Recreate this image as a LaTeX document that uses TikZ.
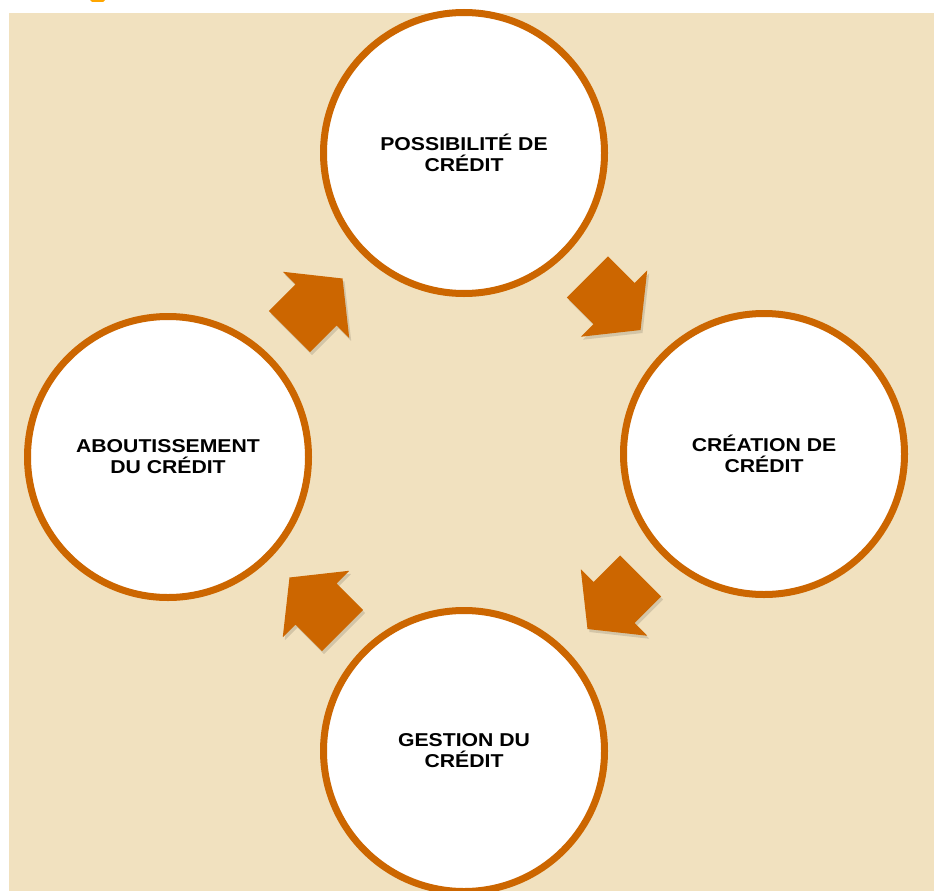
\documentclass[tikz,border=0pt]{standalone}
\usepackage{fontspec}
\usepackage{tikz}
\usetikzlibrary{calc}
\newfontfamily\stagefont[FakeStretch=1.14]{Liberation Sans}
\definecolor{rust}{HTML}{CC6600}
\definecolor{sand}{HTML}{F1E1BF}
\tikzstyle{stage} = [circle, draw=rust, line width=7pt, fill=white, minimum size=281pt, inner sep=0pt, align=center, font=\stagefont\bfseries\fontsize{18.6}{21}\selectfont]
\tikzstyle{arrowshade} = [black, opacity=0.12]
\tikzset{pics/blockarrow/.style={code={
    \fill[#1] (-37.5,-29) -- (0,-29) -- (0,-47) -- (37.5,0) -- (0,47) -- (0,29) -- (-37.5,29) -- cycle;
}}}

\begin{document}
\begin{tikzpicture}[x=1pt, y=1pt]

        \useasboundingbox (0,0) rectangle (934,-891);
        \fill[sand] (9,-13) rectangle (934,-891);
        \fill[orange!70!yellow] (90,0) -- (105,0) -- (103,-2) -- (92,-2) -- cycle;

        % Circles
        \node (poss) [stage] at (464,-153) {POSSIBILITÉ DE\\CRÉDIT};
        \node (crea) [stage] at (764,-454) {CRÉATION DE\\CRÉDIT};
        \node (gest) [stage] at (464,-751) {GESTION DU\\CRÉDIT};
        \node (abou) [stage] at (168,-457) {ABOUTISSEMENT\\DU CRÉDIT};

        % Soft shadows of the block arrows
        \pic[shift={(2,-3)}, rotate=-45] at ($(poss)!0.5!(crea)$) {blockarrow=arrowshade};
        \pic[shift={(2,-3)}, rotate=-135] at ($(crea)!0.5!(gest)$) {blockarrow=arrowshade};
        \pic[shift={(2,-3)}, rotate=135] at ($(gest)!0.5!(abou)$) {blockarrow=arrowshade};
        \pic[shift={(2,-3)}, rotate=45] at ($(abou)!0.5!(poss)$) {blockarrow=arrowshade};

        % Block arrows between the circles
        \pic[rotate=-45] at ($(poss)!0.5!(crea)$) {blockarrow=rust};
        \pic[rotate=-135] at ($(crea)!0.5!(gest)$) {blockarrow=rust};
        \pic[rotate=135] at ($(gest)!0.5!(abou)$) {blockarrow=rust};
        \pic[rotate=45] at ($(abou)!0.5!(poss)$) {blockarrow=rust};

\end{tikzpicture}
\end{document}
